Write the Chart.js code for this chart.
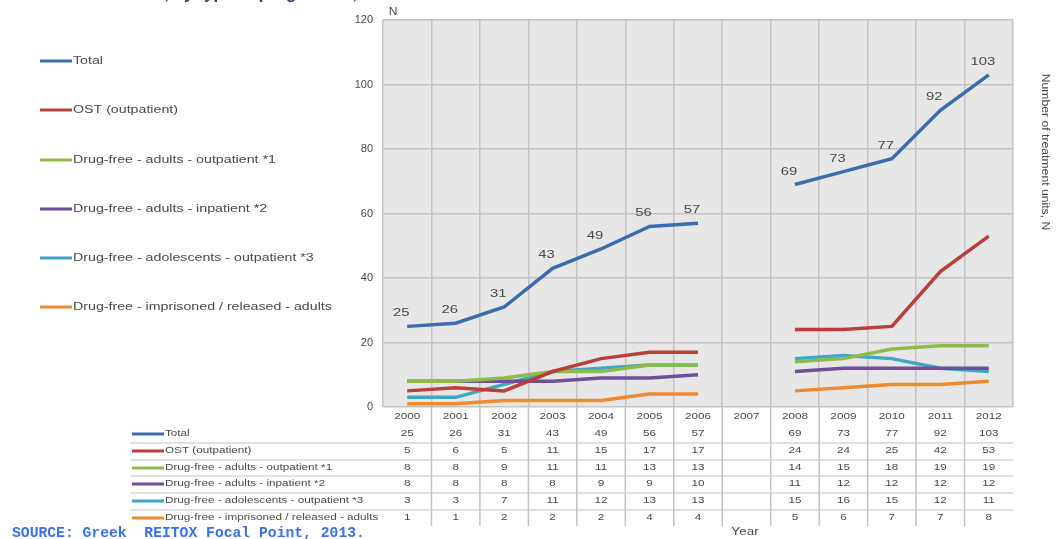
<!DOCTYPE html>
<html>
<head>
<meta charset="utf-8">
<script src="https://cdn.jsdelivr.net/npm/chart.js@4.4.1/dist/chart.umd.min.js"></script>
<style>
html,body{margin:0;padding:0;background:#fff;overflow:hidden;}
#wrap{position:relative;width:1058px;height:539px;}
</style>
</head>
<body>
<div id="wrap"><canvas id="c" width="1058" height="539"></canvas></div>
<script>
// ---- data ----
const years = ['2000','2001','2002','2003','2004','2005','2006','2007','2008','2009','2010','2011','2012'];
const seriesNames = [
  'Total',
  'OST (outpatient)',
  'Drug-free - adults - outpatient *1',
  'Drug-free - adults - inpatient *2',
  'Drug-free - adolescents - outpatient *3',
  'Drug-free - imprisoned / released - adults'
];
const total        = [25, 26, 31, 43, 49, 56, 57, null, 69, 73, 77, 92, 103];
const ost          = [5, 6, 5, 11, 15, 17, 17, null, 24, 24, 25, 42, 53];
const adultsOut    = [8, 8, 9, 11, 11, 13, 13, null, 14, 15, 18, 19, 19];
const adultsIn     = [8, 8, 8, 8, 9, 9, 10, null, 11, 12, 12, 12, 12];
const adolescents  = [3, 3, 7, 11, 12, 13, 13, null, 15, 16, 15, 12, 11];
const imprisoned   = [1, 1, 2, 2, 2, 4, 4, null, 5, 6, 7, 7, 8];
const yTicks = [0, 20, 40, 60, 80, 100, 120];

const seriesData = [total, ost, adultsOut, adultsIn, adolescents, imprisoned];
const colors = ['#3b6cae', '#b83f3b', '#8fbb4b', '#6f4f9b', '#3fa7c3', '#ef8a2f'];

const txt = '#4a4a4a';
const gridCol = '#c3c3c3';
const FONT = '"Liberation Sans", Arial, sans-serif';

// draw text stretched horizontally (the reference text is wide)
function wideText(ctx, s, x, y, align, sx) {
  ctx.save();
  ctx.translate(x, y);
  ctx.scale(sx, 1);
  ctx.textAlign = align;
  ctx.fillText(s, 0, 0);
  ctx.restore();
}

const bgPlugin = {
  id: 'bg',
  beforeDraw(chart) {
    const {ctx, chartArea: a} = chart;
    ctx.save();
    ctx.fillStyle = '#fff';
    ctx.fillRect(0, 0, chart.width, chart.height);
    ctx.fillStyle = '#e7e7e7';
    ctx.fillRect(a.left, a.top, a.right - a.left, a.bottom - a.top);
    ctx.restore();
  }
};

const labelPlugin = {
  id: 'totLabels',
  afterDatasetsDraw(chart) {
    const {ctx} = chart;
    const meta = chart.getDatasetMeta(0);
    ctx.save();
    ctx.font = '11px ' + FONT;
    ctx.fillStyle = txt;
    ctx.textBaseline = 'middle';
    meta.data.forEach((p, i) => {
      const v = total[i];
      if (v == null) return;
      wideText(ctx, String(v), p.x - 6, p.y - 13, 'center', 1.35);
    });
    ctx.restore();
  }
};

const tablePlugin = {
  id: 'table',
  afterDraw(chart) {
    const {ctx, chartArea: a} = chart;
    const xs = chart.scales.x;
    const n = years.length;
    const cw = (a.right - a.left) / n;
    ctx.save();
    // vertical lines through table
    ctx.strokeStyle = gridCol;
    ctx.lineWidth = 1.5;
    for (let k = 1; k < n; k++) {
      const x = a.left + k * cw;
      ctx.beginPath(); ctx.moveTo(x, a.bottom); ctx.lineTo(x, 526); ctx.stroke();
    }
    // horizontal row lines
    const rowY = [434, 451, 468, 484, 501, 518];
    const lineY = [443, 460, 476, 493, 510];
    ctx.lineWidth = 1;
    lineY.forEach(y => { ctx.beginPath(); ctx.moveTo(130, y); ctx.lineTo(a.right, y); ctx.stroke(); });

    ctx.font = '9px ' + FONT;
    ctx.fillStyle = txt;
    ctx.textBaseline = 'middle';
    years.forEach((yr, i) => wideText(ctx, yr, xs.getPixelForValue(i), 417, 'center', 1.3));
    seriesData.forEach((arr, r) => {
      arr.forEach((v, i) => {
        if (v == null) return;
        wideText(ctx, String(v), xs.getPixelForValue(i), rowY[r], 'center', 1.3);
      });
    });
    // table legend keys
    seriesNames.forEach((name, r) => {
      ctx.strokeStyle = colors[r];
      ctx.lineWidth = 3;
      ctx.beginPath(); ctx.moveTo(132, rowY[r]); ctx.lineTo(164, rowY[r]); ctx.stroke();
      wideText(ctx, name, 165, rowY[r], 'left', 1.3);
    });

    // left legend
    const legY = [61, 110, 160, 209, 258, 307];
    ctx.font = '10px ' + FONT;
    seriesNames.forEach((name, r) => {
      ctx.strokeStyle = colors[r];
      ctx.lineWidth = 3;
      ctx.beginPath(); ctx.moveTo(40, legY[r]); ctx.lineTo(72, legY[r]); ctx.stroke();
      ctx.fillStyle = txt;
      wideText(ctx, name, 73, legY[r], 'left', 1.42);
    });

    // axis titles
    ctx.fillStyle = txt;
    ctx.font = '10px ' + FONT;
    wideText(ctx, 'N', 393, 12, 'center', 1.2);
    wideText(ctx, 'Year', 745, 532, 'center', 1.35);
    ctx.save();
    ctx.translate(1045, 152);
    ctx.rotate(Math.PI / 2);
    ctx.font = '10px ' + FONT;
    ctx.scale(1.22, 1);
    ctx.textAlign = 'center';
    ctx.fillText('Number of treatment units, N', 0, 0);
    ctx.restore();

    // source
    ctx.font = 'bold 14px "Liberation Mono", "DejaVu Sans Mono", monospace';
    ctx.fillStyle = '#3a72e6';
    ctx.textAlign = 'left';
    ctx.textBaseline = 'alphabetic';
    ctx.save();
    ctx.translate(12, 537);
    ctx.scale(1.05, 1);
    ctx.fillText('SOURCE: Greek  REITOX Focal Point, 2013.', 0, 0);
    ctx.restore();

    // cropped title
    ctx.font = 'bold 17px ' + FONT;
    ctx.fillStyle = '#2a3f6a';
    ctx.textAlign = 'right';
    ctx.fillText('Treatment units, by type of programme, 2000-2012', 443, -1);
    ctx.restore();
  }
};

new Chart(document.getElementById('c'), {
  type: 'line',
  data: {
    labels: years,
    datasets: seriesNames.map((name, i) => ({
      label: name,
      data: seriesData[i],
      borderColor: colors[i],
      backgroundColor: colors[i],
      borderWidth: 3.5,
      pointRadius: 0,
      tension: 0,
      spanGaps: false
    }))
  },
  options: {
    responsive: false,
    animation: false,
    devicePixelRatio: 1,
    layout: {padding: {left: 343, top: 20, right: 45, bottom: 132}},
    plugins: {legend: {display: false}, tooltip: {enabled: false}, title: {display: false}},
    scales: {
      x: {
        type: 'category',
        offset: true,
        grid: {offset: true, color: gridCol, lineWidth: 1.5, drawTicks: false},
        border: {display: false},
        ticks: {display: false},
        afterFit(s) { s.height = 0; }
      },
      y: {
        min: 0, max: 120,
        afterBuildTicks(s) { s.ticks = yTicks.map(v => ({value: v})); },
        grid: {color: gridCol, lineWidth: 1.5, drawTicks: false},
        border: {display: false},
        ticks: {color: txt, font: {size: 11, family: FONT}, padding: 10},
        afterFit(s) { s.width = 40; }
      }
    }
  },
  plugins: [bgPlugin, labelPlugin, tablePlugin]
});
</script>
</body>
</html>
